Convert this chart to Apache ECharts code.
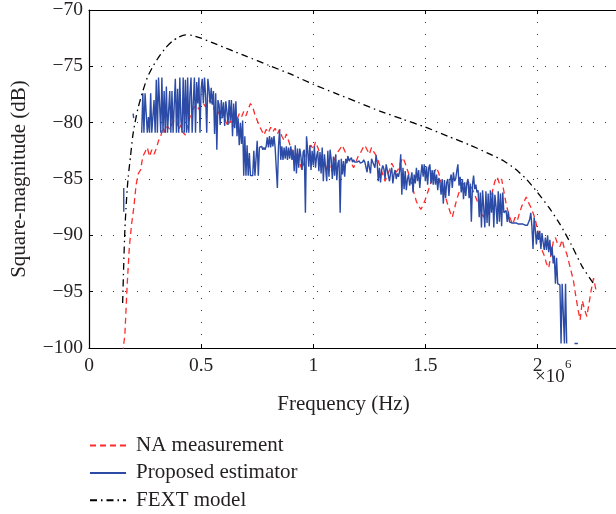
<!DOCTYPE html>
<html>
<head>
<meta charset="utf-8">
<script src="https://cdn.jsdelivr.net/npm/echarts@6/dist/echarts.min.js"></script>
<style>html,body{margin:0;padding:0;background:#fff}#c{width:616px;height:514px}</style>
</head>
<body>
<div id="c"></div>
<script>
// ---- Data (frequency in units of 1e6 Hz, magnitude in dB) ----
const xTicks = [0, 0.5, 1, 1.5, 2];
const yTicks = [-100, -95, -90, -85, -80, -75, -70];

// FEXT model (black dash-dot)
const fextF = [0.150,0.155,0.160,0.165,0.170,0.175,0.185,0.195,0.205,0.22,0.24,0.26,0.285,0.31,0.34,0.37,0.40,0.43,0.46,0.50,0.55,0.60,0.65,0.70,0.80,0.90,1.00,1.10,1.20,1.30,1.40,1.50,1.60,1.70,1.80,1.85,1.90,1.95,2.00,2.05,2.10,2.15,2.20,2.25];
const fextDb = [-96.0,-92.5,-89.5,-87.6,-86.0,-84.8,-83.0,-81.2,-80.0,-78.6,-77.2,-76.0,-75.0,-74.2,-73.4,-72.8,-72.4,-72.2,-72.25,-72.5,-72.9,-73.3,-73.7,-74.1,-74.9,-75.7,-76.6,-77.4,-78.2,-79.0,-79.7,-80.4,-81.2,-82.0,-82.9,-83.4,-84.1,-85.0,-86.2,-87.5,-89.0,-90.8,-92.8,-94.3];

// NA measurement (red dashed), sampled every 0.01 from 0.15
const naStart = 0.15, naStep = 0.01;
const naDb = [
-100.5,-98.8,-94.5,-91.0,-89.0,-87.5,-85.5,-84.5,-84.2,-83.0,
-82.6,-82.2,-83.0,-82.4,-82.8,-82.3,-81.6,-81.2,-80.4,-80.9,
-80.3,-80.6,-80.1,-79.8,-79.7,-80.6,-80.2,-80.9,-81.1,-80.3,
-79.5,-78.9,-78.6,-78.5,-78.8,-78.4,-78.3,-78.6,-78.2,-78.0,
-78.3,-78.9,-79.4,-79.0,-79.6,-79.3,-79.9,-80.3,-79.8,-80.4,
-80.1,-79.7,-79.2,-79.5,-79.0,-79.4,-78.8,-78.3,-78.6,-79.3,
-79.8,-80.3,-80.7,-81.1,-80.6,-80.9,-80.4,-80.8,-80.5,-81.0,
-80.6,-81.2,-81.6,-81.0,-81.6,-82.2,-82.7,-83.2,-82.6,-83.6,
-84.2,-83.4,-82.8,-82.3,-82.0,-82.4,-81.7,-82.2,-82.7,-83.2,
-83.5,-84.1,-83.6,-84.3,-83.5,-83.0,-82.6,-82.3,-82.0,-82.5,
-82.9,-83.3,-83.6,-84.0,-83.5,-83.0,-82.7,-82.3,-82.0,-82.4,
-82.8,-82.2,-82.6,-82.9,-83.4,-84.0,-84.6,-85.2,-84.7,-84.2,
-83.6,-84.0,-84.4,-84.1,-83.5,-83.1,-83.6,-84.2,-84.8,-85.5,
-86.3,-87.0,-87.4,-87.7,-87.3,-86.8,-86.2,-85.6,-85.0,-84.4,
-84.0,-84.5,-85.3,-86.0,-86.6,-87.3,-87.9,-88.4,-87.6,-86.8,
-86.2,-85.8,-85.4,-85.6,-85.2,-85.5,-85.9,-86.4,-86.9,-87.5,
-88.0,-88.4,-87.6,-88.2,-87.1,-86.0,-85.2,-84.8,-85.4,-85.0,
-86.1,-87.2,-88.0,-88.6,-89.0,-88.4,-88.7,-88.0,-87.4,-87.0,
-86.6,-87.1,-87.5,-88.0,-88.6,-89.5,-90.4,-91.3,-91.8,-92.5,
-92.9,-91.7,-90.6,-90.2,-90.8,-91.0,-90.4,-91.2,-91.6,-92.4,
-93.2,-94.0,-95.3,-96.5,-97.5,-95.8,-96.6,-97.2,-96.0,-94.8,
-93.8,-94.8
];

// Proposed estimator (blue): a few isolated early pieces, then samples every 0.005 from 0.235
const estPreF = [0.155, 0.155, 0.16, 0.197, 0.199, 0.20];
const estPreDb = [-85.8, -87.9, '-', -79.2, -79.6, '-'];
const estStart = 0.235, estStep = 0.005;
const estDb = [
-80.9,-77.4,-80.9,-77.4,-77.4,-80.9,-79.5,-80.9,-77.4,-80.9,-80.9,-78.0,-80.9,-76.2,-80.9,-76.0,-78.4,-80.9,-76.0,-80.9,
-77.2,-80.9,-76.8,-80.9,-79.0,-77.2,-80.9,-77.2,-80.9,-80.9,-76.1,-80.9,-77.0,-80.9,-76.0,-79.8,-80.9,-76.0,-80.9,-76.2,
-80.9,-76.0,-80.9,-77.5,-76.0,-80.9,-78.2,-76.0,-80.9,-76.4,-78.3,-76.0,-80.9,-77.0,-76.1,-78.3,-76.0,-77.6,-80.9,-76.1,
-77.0,-78.3,-76.9,-78.4,-77.2,-81.0,-77.4,-82.4,-78.0,-78.4,-80.2,-78.0,-79.6,-78.2,-80.3,-78.1,-79.0,-80.2,-78.0,-79.8,
-78.0,-81.2,-78.3,-80.5,-78.1,-81.2,-79.6,-82.0,-80.0,-81.9,-79.8,-84.7,-81.2,-84.7,-82.0,-84.7,-82.7,-84.7,-84.7,-84.7,
-82.5,-84.7,-84.7,-81.6,-84.7,-82.2,-82.3,-82.1,-82.4,-82.2,-82.4,-82.1,-81.3,-82.2,-81.2,-82.2,-81.3,-82.1,-81.2,-82.2,
-82.2,-85.8,-82.1,-80.6,-83.3,-82.1,-83.3,-82.2,-83.2,-82.1,-83.3,-82.2,-83.2,-82.1,-83.3,-82.4,-84.3,-82.0,-84.5,-82.3,
-84.0,-82.3,-83.0,-84.2,-82.6,-82.4,-88.0,-81.2,-82.4,-83.9,-82.0,-84.2,-82.5,-83.8,-82.1,-84.0,-83.0,-82.5,-84.3,-82.6,
-84.5,-82.2,-85.2,-82.8,-84.0,-85.2,-82.5,-84.8,-82.4,-83.2,-85.0,-83.0,-84.7,-82.8,-85.1,-83.6,-83.3,-88.0,-83.2,-84.6,
-83.4,-84.8,-83.2,-83.6,-83.0,-83.4,-83.5,-83.1,-83.5,-83.3,-83.5,-83.5,-83.5,-83.5,-83.4,-83.6,-83.5,-83.5,-83.3,-83.5,
-83.5,-84.4,-83.4,-83.5,-84.5,-83.2,-83.5,-83.4,-84.0,-82.9,-83.5,-85.2,-84.0,-85.3,-84.2,-83.8,-84.1,-85.0,-83.7,-84.2,
-84.3,-85.2,-84.4,-84.0,-85.4,-84.6,-84.2,-85.0,-84.5,-84.8,-84.3,-82.8,-86.4,-84.0,-85.9,-84.3,-86.0,-85.0,-84.6,-85.6,
-85.0,-84.4,-86.2,-84.6,-85.4,-84.0,-85.2,-84.2,-85.8,-84.6,-83.7,-84.8,-83.7,-85.2,-83.9,-85.5,-84.0,-83.7,-85.4,-84.2,
-85.5,-84.2,-85.5,-84.6,-86.0,-84.9,-85.3,-86.4,-85.0,-87.2,-85.1,-86.7,-85.3,-85.0,-86.5,-85.1,-84.6,-85.8,-84.4,-85.2,
-85.0,-84.3,-83.7,-85.6,-84.8,-86.2,-85.0,-86.8,-85.3,-86.5,-85.4,-85.0,-86.7,-85.4,-88.8,-85.5,-84.7,-85.9,-85.5,-86.2,
-86.0,-88.4,-86.2,-89.3,-86.0,-87.5,-89.3,-86.1,-88.9,-86.3,-89.2,-86.0,-88.0,-86.2,-89.3,-86.4,-87.4,-89.0,-86.1,-88.8,
-86.3,-89.2,-86.2,-88.0,-87.9,-87.8,-88.8,-87.9,-88.8,-88.8,-88.9,-88.8,-88.9,-89.0,-88.9,-89.0,-89.0,-89.1,-89.0,-89.1,
-89.0,-89.1,-89.1,-89.0,-89.1,-89.1,-88.6,-88.0,-89.2,-91.2,-88.4,-89.5,-90.8,-89.6,-90.4,-89.6,-91.2,-89.8,-90.6,-91.3,
-90.2,-91.3,-90.0,-91.5,-90.4,-91.8,-91.0,-92.5,-91.8,-94.3,-92.0,-94.3,-94.3,-94.4,-99.6,-94.3,-94.3,-99.6,-94.3,-99.6,
'-','-','-','-','-','-',-99.6,-99.6,-99.6,-99.6
];

const seriesNames = ['NA measurement', 'Proposed estimator', 'FEXT model'];

// ---- Build series data ----
const naData = naDb.map((v, i) => [+(naStart + i * naStep).toFixed(4), v]);
const estData = estPreF.map((f, i) => [f, estPreDb[i]])
  .concat(estDb.map((v, i) => [+(estStart + i * estStep).toFixed(4), v]));
const fextData = fextF.map((f, i) => [f, fextDb[i]]);

const FONT = 'Liberation Serif';
const TXT = '#231f20';

const chart = echarts.init(document.getElementById('c'), null, {renderer: 'canvas'});
chart.setOption({
  animation: false,
  backgroundColor: '#fff',
  textStyle: {fontFamily: FONT, color: TXT},
  grid: {left: 89, right: 0, top: 8, bottom: 166, containLabel: false},
  legend: {
    orient: 'vertical', left: 89, top: 435, padding: 0,
    width: 400, height: 90,
    itemWidth: 36, itemHeight: 16, itemGap: 6.4,
    itemStyle: {opacity: 0, borderWidth: 0},
    textStyle: {fontFamily: FONT, fontSize: 21, color: TXT, padding: [0, 0, 0, 5]},
    data: seriesNames
  },
  xAxis: [{
    type: 'value', min: 0, max: 2.35, interval: 0.5,
    axisLine: {show: true, onZero: false, lineStyle: {color: '#000', width: 1.2}},
    axisTick: {show: true, inside: true, length: 4, lineStyle: {color: '#000'}},
    axisLabel: {showMaxLabel: false, margin: 8, fontSize: 19.5, fontFamily: FONT, color: TXT,
      formatter: v => xTicks.includes(+v.toFixed(2)) ? String(+v.toFixed(2)) : ''},
    splitLine: {show: true, lineStyle: {type: [1, 11], color: '#333', width: 1}},
    name: 'Frequency (Hz)', nameLocation: 'middle', nameGap: 46,
    nameTextStyle: {fontFamily: FONT, fontSize: 21, color: TXT, padding: [0, 18, 0, 0]}
  }, {
    type: 'value', position: 'top', min: 0, max: 2.35, interval: 0.5,
    axisLine: {show: true, onZero: false, lineStyle: {color: '#000', width: 1.2}},
    axisTick: {show: true, inside: true, length: 4, lineStyle: {color: '#000'}},
    axisLabel: {show: false}, splitLine: {show: false}
  }],
  yAxis: [{
    type: 'value', min: -100, max: -70, interval: 5,
    axisLine: {show: true, onZero: false, lineStyle: {color: '#000', width: 1.2}},
    axisTick: {show: true, inside: true, length: 4, lineStyle: {color: '#000'}},
    axisLabel: {margin: 6, fontSize: 19.5, fontFamily: FONT, color: TXT,
      formatter: v => yTicks.includes(v) ? (v < 0 ? '\u2212' + Math.abs(v) : String(v)) : ''},
    splitLine: {show: true, lineStyle: {type: [1, 11], color: '#333', width: 1}},
    name: 'Square-magnitude (dB)', nameLocation: 'middle', nameGap: 59,
    nameTextStyle: {fontFamily: FONT, fontSize: 21, color: TXT}
  }],
  graphic: [
    {type: 'text', left: 535, top: 368, style: {text: '\u00d710', font: '19px "Liberation Serif"', fill: TXT}},
    {type: 'text', left: 565, top: 358, style: {text: '6', font: '13px "Liberation Serif"', fill: TXT}}
  ],
  series: [
    {name: seriesNames[0], type: 'line', data: naData, showSymbol: false, symbol: 'none',
      lineStyle: {color: '#ff2a2a', width: 1.3, type: [6, 4]}, itemStyle: {color: '#ff2a2a'}, z: 2},
    {name: seriesNames[1], type: 'line', data: estData, showSymbol: false, symbol: 'none', connectNulls: false,
      lineStyle: {color: '#2b4ba6', width: 1.4}, itemStyle: {color: '#2b4ba6'}, z: 3},
    {name: seriesNames[2], type: 'line', data: fextData, showSymbol: false, symbol: 'none', smooth: 0.2,
      lineStyle: {color: '#000', width: 1.3, type: [7, 4, 1.5, 4]}, itemStyle: {color: '#000'}, z: 4}
  ]
});
</script>
</body>
</html>
